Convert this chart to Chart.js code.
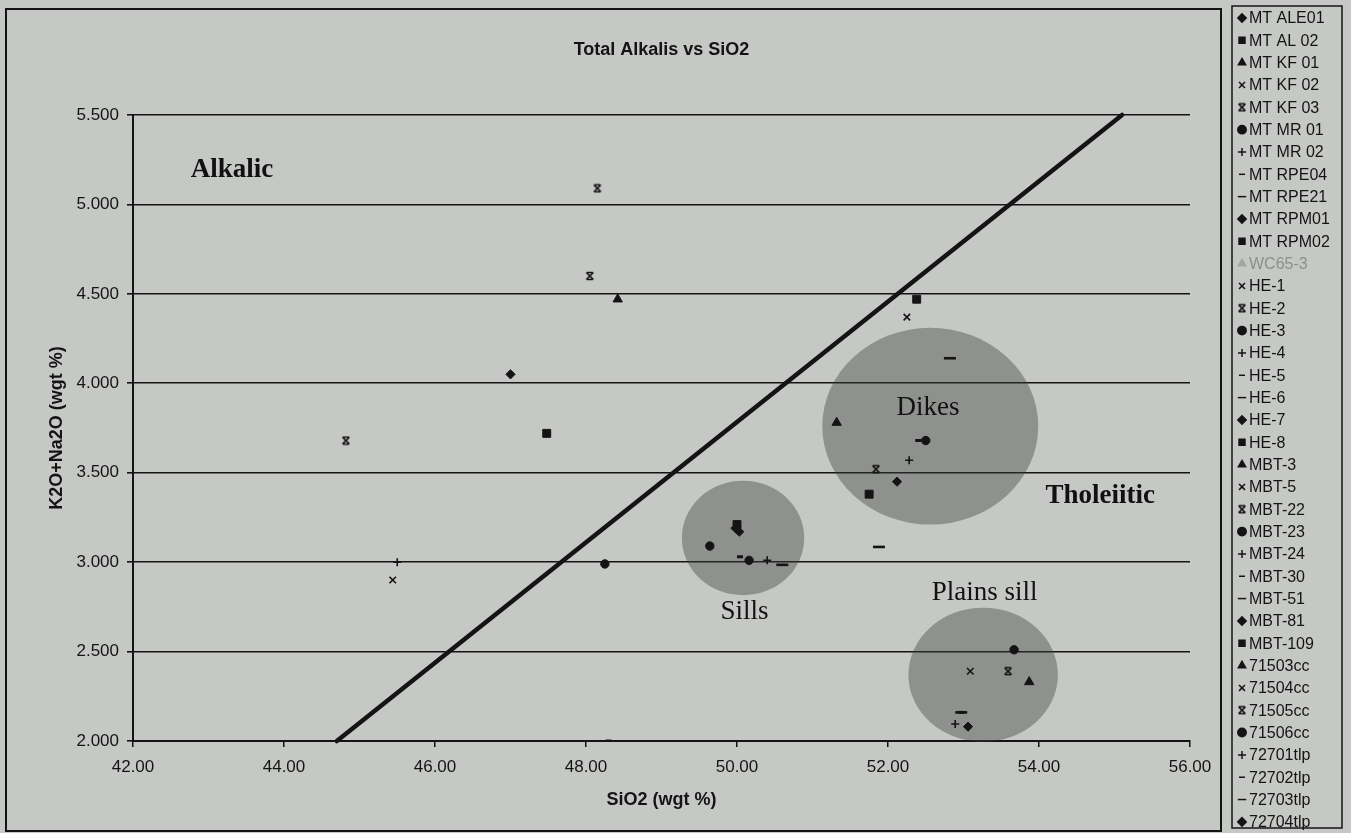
<!DOCTYPE html>
<html>
<head>
<meta charset="utf-8">
<script src="https://cdn.jsdelivr.net/npm/chart.js@4.4.1/dist/chart.umd.min.js"></script>
<style>
  html, body { margin: 0; padding: 0; background: #c6c8c5; }
  #wrap { position: relative; width: 1351px; height: 833px; }
</style>
</head>
<body>
<div id="wrap"><canvas id="tas" width="1351" height="833"></canvas></div>
<script>
// sample series, one marker kind each
const seriesNames = [
  "MT ALE01", "MT AL 02", "MT KF 01", "MT KF 02", "MT KF 03", "MT MR 01", "MT MR 02",
  "MT RPE04", "MT RPE21", "MT RPM01", "MT RPM02", "WC65-3",
  "HE-1", "HE-2", "HE-3", "HE-4", "HE-5", "HE-6", "HE-7", "HE-8",
  "MBT-3", "MBT-5", "MBT-22", "MBT-23", "MBT-24", "MBT-30", "MBT-51", "MBT-81", "MBT-109",
  "71503cc", "71504cc", "71505cc", "71506cc",
  "72701tlp", "72702tlp", "72703tlp", "72704tlp"
];
const seriesMarkers = [
  "diamond", "square", "triangle", "x", "star", "circle", "plus",
  "dash", "longDash", "diamond", "square", "triangle",
  "x", "star", "circle", "plus", "dash", "longDash", "diamond", "square",
  "triangle", "x", "star", "circle", "plus", "dash", "longDash", "diamond", "square",
  "triangle", "x", "star", "circle",
  "plus", "dash", "longDash", "diamond"
];
const sio2Values = [
  [47.00], [47.48], [48.42], [45.44], [48.15, 48.05], [48.25], [45.50],
  [48.30], [51.88], [50.03], [51.75], [],
  [], [44.82], [49.64, 50.16], [50.40], [50.04], [50.60], [49.98], [50.00],
  [51.32], [52.25], [51.84], [52.50], [52.28], [52.40], [52.82], [52.12], [52.38],
  [53.87], [53.09], [53.59], [53.67],
  [52.89], [52.97], [52.97], [53.06]
];
const alkaliValues = [
  [4.05], [3.72], [4.47], [2.90], [5.09, 4.60], [2.99], [3.00],
  [2.00], [3.085], [3.17], [3.38], [],
  [], [3.68], [3.09, 3.01], [3.01], [3.03], [2.985], [3.19], [3.21],
  [3.78], [4.37], [3.52], [3.68], [3.57], [3.68], [4.14], [3.45], [4.47],
  [2.33], [2.39], [2.39], [2.51],
  [2.095], [2.16], [2.16], [2.08]
];

// alkalic / tholeiitic dividing line
const dividerSio2 = [44.7, 55.1];
const dividerAlkalis = [2.0, 5.5];

// shaded sample groups
const groupNames = ["Sills", "Dikes", "Plains sill"];
const groupSio2 = [50.08, 52.56, 53.26];
const groupAlkalis = [3.135, 3.76, 2.37];
const groupSpreadSio2 = [0.81, 1.43, 0.99];
const groupSpreadAlkalis = [0.32, 0.55, 0.375];

const xTicks = [42, 44, 46, 48, 50, 52, 54, 56];
const yTicks = [2.0, 2.5, 3.0, 3.5, 4.0, 4.5, 5.0, 5.5];

// text placed on the plot, in data units
const plotLabels = [
  { text: "Alkalic", x: 43.31, y: 5.19, bold: true },
  { text: "Tholeiitic", x: 54.81, y: 3.37, bold: true },
  { text: "Dikes", x: 52.53, y: 3.86, bold: false },
  { text: "Sills", x: 50.10, y: 2.72, bold: false },
  { text: "Plains sill", x: 53.28, y: 2.83, bold: false }
];

const INK = "#141414";

// spreadsheet-style star: an x with short bars top and bottom
function starMarker(size, colour) {
  const c = document.createElement("canvas");
  c.width = size;
  c.height = size;
  const g = c.getContext("2d");
  const m = size / 2;
  const r = size / 2 - 1.5;
  g.strokeStyle = colour;
  g.lineWidth = 1.7;
  g.beginPath();
  g.moveTo(m - r, m - r); g.lineTo(m + r, m + r);
  g.moveTo(m + r, m - r); g.lineTo(m - r, m + r);
  g.moveTo(m - r + 0.5, m - r); g.lineTo(m + r - 0.5, m - r);
  g.moveTo(m - r + 0.5, m + r); g.lineTo(m + r - 0.5, m + r);
  g.stroke();
  return c;
}
const starImage = starMarker(10, INK);

const markerStyle = {
  diamond:  { pointStyle: "rectRot", radius: 4.6, borderWidth: 1 },
  square:   { pointStyle: "rect", radius: 5.6, borderWidth: 1 },
  triangle: { pointStyle: "triangle", radius: 5.4, borderWidth: 1 },
  x:        { pointStyle: "crossRot", radius: 4.6, borderWidth: 1.6 },
  star:     { pointStyle: starImage, radius: 5, borderWidth: 1 },
  circle:   { pointStyle: "circle", radius: 4.2, borderWidth: 1 },
  plus:     { pointStyle: "cross", radius: 4, borderWidth: 1.6 },
  dash:     { pointStyle: "line", radius: 3, borderWidth: 3 },
  longDash: { pointStyle: "line", radius: 6, borderWidth: 2.6 }
};

const sampleSets = seriesNames.map((name, i) => {
  const m = markerStyle[seriesMarkers[i]];
  const colour = name === "WC65-3" ? "#a3a5a2" : INK;
  return {
    label: name,
    data: sio2Values[i].map((x, j) => ({ x, y: alkaliValues[i][j] })),
    pointStyle: m.pointStyle,
    pointRadius: m.radius,
    pointHoverRadius: m.radius,
    pointBorderWidth: m.borderWidth,
    backgroundColor: colour,
    borderColor: colour,
    showLine: false
  };
});

const dividerSet = {
  label: "divider",
  data: dividerSio2.map((x, i) => ({ x, y: dividerAlkalis[i] })),
  showLine: true,
  borderColor: INK,
  borderWidth: 4.5,
  borderCapStyle: "round",
  pointRadius: 0,
  clip: false
};

const paperPlugin = {
  id: "paper",
  beforeDraw(chart) {
    const { ctx } = chart;
    ctx.save();
    ctx.fillStyle = "#c6c8c5";
    ctx.fillRect(0, 0, chart.width, chart.height);
    ctx.strokeStyle = INK;
    ctx.lineWidth = 2;
    ctx.strokeRect(6, 9, 1215, 822);
    ctx.restore();
  }
};

const groupPlugin = {
  id: "groups",
  beforeDatasetsDraw(chart) {
    const { ctx, scales: { x, y } } = chart;
    ctx.save();
    ctx.fillStyle = "rgba(60, 62, 60, 0.4)";
    groupNames.forEach((name, i) => {
      const cx = x.getPixelForValue(groupSio2[i]);
      const cy = y.getPixelForValue(groupAlkalis[i]);
      const rx = x.getPixelForValue(groupSio2[i] + groupSpreadSio2[i]) - cx;
      const ry = cy - y.getPixelForValue(groupAlkalis[i] + groupSpreadAlkalis[i]);
      ctx.beginPath();
      ctx.ellipse(cx, cy, rx, ry, 0, 0, Math.PI * 2);
      ctx.fill();
    });
    ctx.restore();
  },
  afterDatasetsDraw(chart) {
    const { ctx, scales: { x, y } } = chart;
    ctx.save();
    ctx.fillStyle = "#111";
    ctx.textAlign = "center";
    ctx.textBaseline = "middle";
    plotLabels.forEach((l) => {
      ctx.font = (l.bold ? "bold " : "") + "27px 'Liberation Serif'";
      ctx.fillText(l.text, x.getPixelForValue(l.x), y.getPixelForValue(l.y));
    });
    ctx.restore();
  }
};

const legendPlugin = {
  id: "sampleLegend",
  afterDraw(chart) {
    const { ctx } = chart;
    ctx.save();
    ctx.strokeStyle = INK;
    ctx.lineWidth = 1.5;
    ctx.strokeRect(1232, 6, 110, 822);
    ctx.font = "16px 'Liberation Sans'";
    ctx.textBaseline = "middle";
    ctx.textAlign = "left";
    chart.data.datasets.forEach((ds) => {
      if (ds.label === "divider") return;
      const i = seriesNames.indexOf(ds.label);
      const rowY = 18 + i * 22.33;
      ctx.fillStyle = ds.backgroundColor;
      ctx.strokeStyle = ds.borderColor;
      Chart.helpers.drawPoint(ctx, {
        pointStyle: ds.pointStyle,
        radius: Math.min(ds.pointRadius, 4.2),
        borderWidth: ds.pointBorderWidth,
        rotation: 0
      }, 1242, rowY);
      ctx.fillStyle = ds.label === "WC65-3" ? "#8d8f8c" : INK;
      ctx.fillText(ds.label, 1249, rowY + 1);
    });
    ctx.restore();
  }
};

const tickFont = { family: "'Liberation Sans'", size: 17 };
const titleFont = { family: "'Liberation Sans'", size: 18, weight: "bold" };

new Chart(document.getElementById("tas"), {
  type: "scatter",
  data: { datasets: [dividerSet, ...sampleSets] },
  options: {
    responsive: false,
    devicePixelRatio: 1,
    animation: false,
    events: [],
    layout: { padding: { left: 0, right: 161, top: 0, bottom: 0 } },
    scales: {
      x: {
        type: "linear",
        min: 42,
        max: 56,
        afterBuildTicks: (s) => { s.ticks = xTicks.map((v) => ({ value: v })); },
        afterFit: (s) => { s.height = 92; },
        ticks: {
          color: INK,
          font: tickFont,
          padding: 10,
          maxRotation: 0,
          callback: (v) => Number(v).toFixed(2)
        },
        grid: { drawOnChartArea: false, drawTicks: true, tickLength: 6, color: INK, lineWidth: 1.5 },
        border: { display: true, color: INK, width: 2 },
        title: {
          display: true,
          text: "SiO2 (wgt %)",
          color: INK,
          font: titleFont,
          padding: { top: 0, bottom: 22 }
        }
      },
      y: {
        type: "linear",
        min: 2,
        max: 5.5,
        afterBuildTicks: (s) => { s.ticks = yTicks.map((v) => ({ value: v })); },
        afterFit: (s) => { s.width = 133; },
        ticks: {
          color: INK,
          font: tickFont,
          padding: 8,
          callback: (v) => Number(v).toFixed(3)
        },
        grid: { drawTicks: true, tickLength: 6, color: INK, lineWidth: 1.6 },
        border: { display: true, color: INK, width: 2 },
        title: {
          display: true,
          text: "K2O+Na2O (wgt %)",
          color: INK,
          font: titleFont,
          padding: { top: 46, bottom: 0 }
        }
      }
    },
    plugins: {
      legend: { display: false },
      tooltip: { enabled: false },
      title: {
        display: true,
        text: "Total Alkalis vs SiO2",
        color: INK,
        fullSize: false,
        font: titleFont,
        padding: { top: 39, bottom: 54.4 }
      }
    }
  },
  plugins: [paperPlugin, groupPlugin, legendPlugin]
});
</script>
</body>
</html>
